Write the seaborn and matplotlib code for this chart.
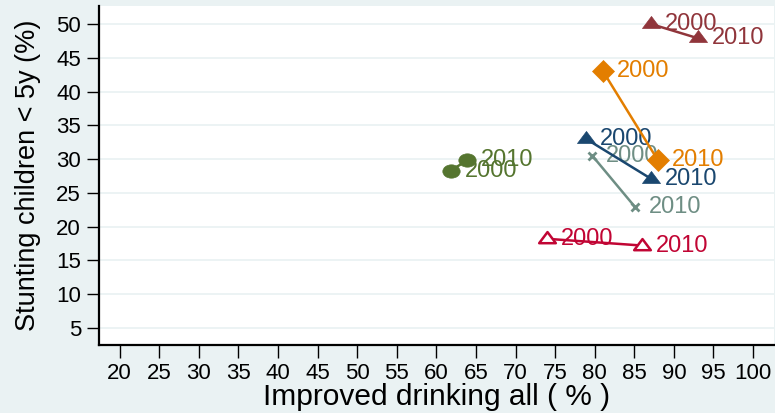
import matplotlib
matplotlib.use("Agg")
import matplotlib.pyplot as plt
import numpy as np
import pandas as pd
import seaborn as sns
from matplotlib.path import Path

# Improved drinking water coverage (%) and child stunting (%) in 2000 and 2010
groups = ["g1", "g2", "g3", "g4", "g5", "g6"]
years = ["2000", "2010"]
drinking_2000 = [78.9, 87.1, 61.8, 81.0, 79.7, 74.0]
drinking_2010 = [87.1, 93.0, 63.9, 88.0, 85.1, 86.0]
stunting_2000 = [33.0, 50.0, 28.3, 43.1, 30.5, 18.2]
stunting_2010 = [27.1, 47.9, 29.8, 29.8, 22.9, 17.2]

x_ticks = list(range(20, 101, 5))
y_ticks = list(range(5, 51, 5))

rows = []
for i, g in enumerate(groups):
    rows.append((g, years[0], drinking_2000[i], stunting_2000[i]))
    rows.append((g, years[1], drinking_2010[i], stunting_2010[i]))
df = pd.DataFrame(rows, columns=["group", "year", "drinking", "stunting"])

# Marker shapes: wide triangle and slightly wide ellipse
tri = Path([(0, 1.0), (-1.125, -0.5), (1.125, -0.5), (0, 1.0)],
           [Path.MOVETO, Path.LINETO, Path.LINETO, Path.CLOSEPOLY])
uc = Path.unit_circle()
ell = Path(uc.vertices * np.array([1.3, 1.0]), uc.codes)

styles = {
    "g5": dict(color="#6e8e84", marker="x", ms=6, mew=2.0, mfc="#6e8e84"),
    "g1": dict(color="#1a476f", marker=tri, ms=13, mew=0.5, mfc="#1a476f"),
    "g2": dict(color="#90353b", marker=tri, ms=13, mew=0.5, mfc="#90353b"),
    "g3": dict(color="#55752f", marker=ell, ms=12.5, mew=0.5, mfc="#55752f"),
    "g4": dict(color="#e37e00", marker="D", ms=11.5, mew=0.5, mfc="#e37e00"),
    "g6": dict(color="#c10534", marker=tri, ms=12, mew=1.8, mfc="white"),
}

sns.set_theme(style="white")
plt.rcParams["font.family"] = ["Liberation Sans", "DejaVu Sans"]

fig = plt.figure(figsize=(7.75, 4.13), dpi=100, facecolor="#eaf2f3")
ax = fig.add_axes([99 / 775, 1 - 345 / 413, (774 - 99) / 775, (345 - 6) / 413])
ax.set_facecolor("white")

for z, g in enumerate(["g5", "g1", "g2", "g3", "g4", "g6"]):
    st = styles[g]
    sub = df[df["group"] == g]
    sns.lineplot(data=sub, x="drinking", y="stunting", ax=ax, sort=False,
                 estimator=None, color=st["color"], lw=1.8,
                 marker=st["marker"], markersize=st["ms"],
                 markeredgewidth=st["mew"], markerfacecolor=st["mfc"],
                 markeredgecolor=st["color"], zorder=3 + z)
    for _, r in sub.iterrows():
        ax.annotate(r["year"], (r["drinking"], r["stunting"]),
                    xytext=(10, 0), textcoords="offset points",
                    ha="left", va="center", fontsize=17,
                    color=st["color"], zorder=3 + z)

ax.set_xlim(17.39, 102.65)
ax.set_ylim(2.48, 52.66)
ax.set_xticks(x_ticks)
ax.set_yticks(y_ticks)
ax.set_xticklabels([str(t) for t in x_ticks])
ax.set_yticklabels([str(t) for t in y_ticks])

ax.yaxis.grid(True, color="#eaf2f3", lw=1.3)
ax.xaxis.grid(False)
ax.set_axisbelow(True)

for s in ["top", "right"]:
    ax.spines[s].set_visible(False)
for s in ["left", "bottom"]:
    ax.spines[s].set_color("black")
    ax.spines[s].set_linewidth(1.6)

ax.tick_params(axis="both", which="major", direction="out", length=9,
               width=1.0, color="black", labelsize=16, labelcolor="black",
               pad=4, left=True, bottom=True)

ax.set_xlabel("Improved drinking all ( % )", fontsize=21.5, color="black", labelpad=-1)
ax.set_ylabel("Stunting children < 5y (%)", fontsize=19.5, color="black", labelpad=11)

fig.savefig("out.png", dpi=100, facecolor=fig.get_facecolor())
